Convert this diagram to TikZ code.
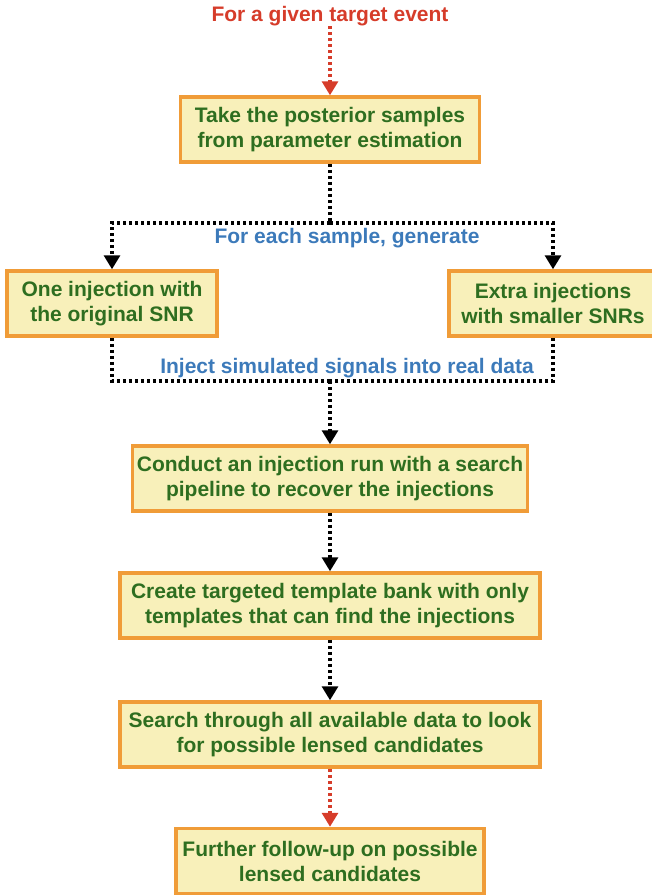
\documentclass[tikz,border=0pt]{standalone}
\usepackage{fontspec}
\setmainfont{Liberation Sans}
\usepackage{tikz}
\usetikzlibrary{arrows.meta}
\definecolor{boxfill}{RGB}{248,240,186}
\definecolor{boxline}{RGB}{240,156,56}
\definecolor{txtgreen}{RGB}{46,110,32}
\definecolor{txtblue}{RGB}{60,122,186}
\definecolor{txtred}{RGB}{214,60,42}

\begin{document}
\begin{tikzpicture}[x=1pt,y=-1pt,
        box/.style={draw=boxline,fill=boxfill,line width=3.5pt,align=center,
            minimum height=65pt,inner sep=0pt,text=txtgreen,
            font=\fontsize{21}{25}\selectfont\bfseries},
        lbl/.style={font=\fontsize{21}{23}\selectfont\bfseries,inner sep=0pt},
        blk/.style={line width=3.2pt,dash pattern=on 3pt off 3pt,black},
        blkarr/.style={blk,-{Triangle[width=16pt,length=14pt]}},
        redarr/.style={blk,draw=txtred,-{Triangle[width=16pt,length=14pt]}}]
        \useasboundingbox (0,0) rectangle (652,895);

        \node[lbl,text=txtred] (t0) at (330,16) {For a given target event};
        \node[box,minimum width=299pt] (b1) at (330,129.5) {Take the posterior samples\\from parameter estimation};
        \node[box,minimum width=210pt] (b2) at (112,303.5) {One injection with\\the original SNR};
        \node[box,minimum width=208pt] (b3) at (553,303.5) {Extra injections\\with smaller SNRs};
        \node[box,minimum width=395pt] (b4) at (330,478.5) {Conduct an injection run with a search\\pipeline to recover the injections};
        \node[box,minimum width=420pt] (b5) at (330,605.5) {Create targeted template bank with only\\templates that can find the injections};
        \node[box,minimum width=420pt] (b6) at (330,734.5) {Search through all available data to look\\for possible lensed candidates};
        \node[box,minimum width=308pt] (b7) at (330,861) {Further follow-up on possible\\lensed candidates};

        \node[lbl,text=txtblue] (l1) at (347,238) {For each sample, generate};
        \node[lbl,text=txtblue] (l2) at (347,368) {Inject simulated signals into real data};

        \coordinate (c1) at (330,223);
        \coordinate (c2) at (330,381);

        \draw[redarr] (t0) -- (b1);
        \draw[blk] (b1) -- (c1);
        \draw[blkarr] (c1) -| (b2);
        \draw[blkarr] (c1) -| (b3);
        \draw[blk] (b2) |- (c2);
        \draw[blk] (b3) |- (c2);
        \draw[blkarr] (c2) -- (b4);
        \draw[blkarr] (b4) -- (b5);
        \draw[blkarr] (b5) -- (b6);
        \draw[redarr] (b6) -- (b7);
    \end{tikzpicture}
\end{document}
